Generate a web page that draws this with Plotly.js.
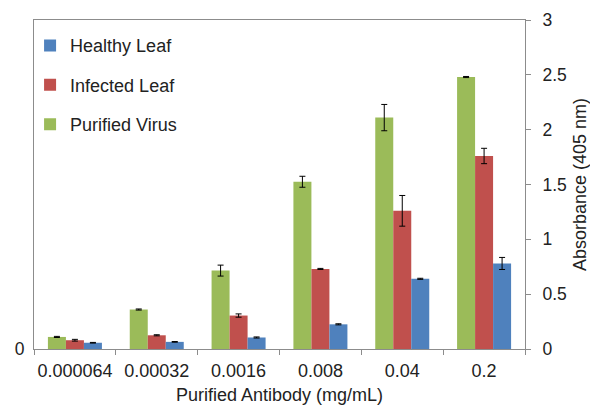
<!DOCTYPE html>
<html>
<head>
<meta charset="utf-8">
<script src="https://cdn.plot.ly/plotly-3.0.1.min.js"></script>
<style>html,body{margin:0;padding:0;background:#fff;}#chart{width:590px;height:405px;}</style>
</head>
<body>
<div id="chart"></div>
<script>
const categories = ["0.000064", "0.00032", "0.0016", "0.008", "0.04", "0.2"];
const purifiedVirus = [0.11, 0.36, 0.715, 1.525, 2.11, 2.48];
const purifiedVirusErr = [0.005, 0.005, 0.05, 0.05, 0.12, 0.005];
const infectedLeaf = [0.08, 0.125, 0.305, 0.73, 1.26, 1.76];
const infectedLeafErr = [0.008, 0.005, 0.015, 0.005, 0.14, 0.07];
const healthyLeaf = [0.057, 0.065, 0.105, 0.225, 0.64, 0.78];
const healthyLeafErr = [0.003, 0.003, 0.005, 0.005, 0.005, 0.055];
const yTicks = [0, 0.5, 1, 1.5, 2, 2.5, 3];

const font = "Liberation Sans, Arial, sans-serif";
const axisGray = "#8c8c8c";
function errBar(arr) {
  return {type: "data", array: arr, visible: true, color: "#000", thickness: 1, width: 3};
}
const traces = [
  {type: "bar", name: "Purified Virus", x: categories, y: purifiedVirus, error_y: errBar(purifiedVirusErr),
   marker: {color: "#9BBB59"}, legendgroup: "p", legendrank: 3},
  {type: "bar", name: "Infected Leaf", x: categories, y: infectedLeaf, error_y: errBar(infectedLeafErr),
   marker: {color: "#C0504D"}, legendgroup: "i", legendrank: 2},
  {type: "bar", name: "Healthy Leaf", x: categories, y: healthyLeaf, error_y: errBar(healthyLeafErr),
   marker: {color: "#4F81BD"}, legendgroup: "h", legendrank: 1},
  {type: "scatter", x: categories, y: [null,null,null,null,null,null], yaxis: "y2", showlegend: false, hoverinfo: "skip"}
];
const layout = {
  width: 590, height: 405,
  margin: {l: 34, r: 65, t: 20, b: 56},
  paper_bgcolor: "#fff", plot_bgcolor: "#fff",
  font: {family: font, size: 18, color: "#222"},
  barmode: "group", bargap: 0.34, bargroupgap: 0,
  showlegend: true,
  legend: {x: -0.008, xanchor: "left", y: 0.978, yanchor: "top", traceorder: "grouped",
           tracegroupgap: 13, font: {family: font, size: 18, color: "#222"}, bgcolor: "rgba(0,0,0,0)"},
  xaxis: {type: "category", showline: true, linecolor: axisGray, linewidth: 1, mirror: true,
          ticks: "outside", tickson: "boundaries", ticklen: 5, tickcolor: axisGray, tickangle: 0,
          ticklabelstandoff: 5,
          showgrid: false, zeroline: false, tickfont: {size: 18}, automargin: false,
          title: {text: "Purified Antibody (mg/mL)", font: {size: 18}, standoff: 12}},
  yaxis: {side: "right", range: [0, 3], tickvals: yTicks, ticktext: yTicks.map(String),
          showline: true, linecolor: axisGray, linewidth: 1, ticks: "outside", ticklen: 5, tickcolor: axisGray,
          ticklabelstandoff: 8, automargin: false,
          showgrid: false, zeroline: false, tickfont: {size: 17.5},
          title: {text: "Absorbance (405 nm)", font: {size: 18}, standoff: 16}},
  yaxis2: {overlaying: "y", side: "left", range: [0, 3], tickvals: [0], ticktext: ["0"],
           showline: true, linecolor: axisGray, linewidth: 1, ticks: "", showgrid: false, zeroline: false,
           ticklabelstandoff: 5, tickfont: {size: 17.5}, automargin: false}
};
Plotly.newPlot("chart", traces, layout, {displayModeBar: false, staticPlot: true});
</script>
</body>
</html>
